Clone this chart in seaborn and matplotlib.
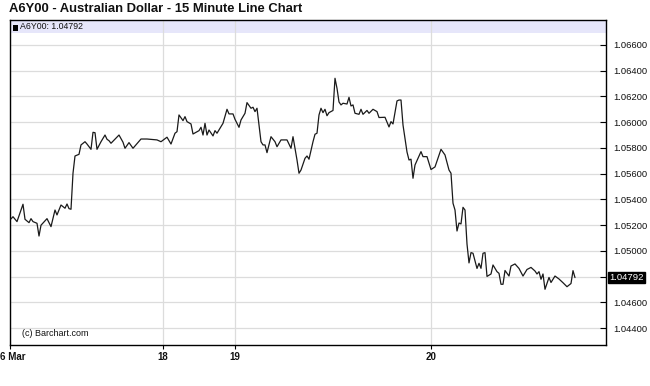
import matplotlib
matplotlib.use("Agg")
import matplotlib.pyplot as plt
import seaborn as sns
import pandas as pd
from matplotlib.patches import Rectangle
import matplotlib.transforms as mtransforms

# ---- data (15-minute bars, bar index -> price) ----
bars = [0, 1, 3, 6, 7, 9, 10, 11, 13, 14, 15, 18, 20, 22, 23, 25, 27, 28, 29, 30,
        31, 32, 34, 35, 37, 38, 40, 41, 42, 43, 45, 47, 48, 49, 50, 54, 56, 57, 59, 61,
        65, 68, 71, 73, 75, 78, 80, 82, 83, 84, 86, 87, 88, 90, 91, 94, 95, 96, 97, 98,
        99, 101, 102, 103, 106, 108, 109, 111, 112, 114, 115, 117, 118, 120, 121, 122, 123, 125, 126, 127,
        128, 130, 132, 133, 135, 138, 140, 141, 143, 144, 145, 147, 148, 149, 151, 152, 153, 154, 155, 156,
        157, 158, 159, 161, 162, 163, 164, 165, 166, 168, 169, 170, 171, 172, 174, 175, 176, 178, 179, 181,
        183, 184, 187, 189, 190, 191, 193, 194, 195, 196, 198, 199, 200, 201, 202, 205, 206, 208, 210, 212,
        215, 217, 219, 220, 221, 222, 223, 224, 225, 226, 227, 228, 229, 230, 231, 233, 234, 235, 236, 237,
        238, 240, 241, 243, 244, 245, 246, 247, 249, 250, 252, 254, 256, 258, 260, 262, 263, 264, 265, 266,
        267, 269, 270, 272, 274, 276, 278, 280, 281, 282]
prices = [1.05248, 1.05265, 1.05227, 1.05362, 1.05245, 1.05219, 1.05250, 1.05227, 1.05214, 1.05115,
          1.05199, 1.05250, 1.05188, 1.05317, 1.05279, 1.05356, 1.05331, 1.05364, 1.05328, 1.05323,
          1.05603, 1.05737, 1.05750, 1.05823, 1.05848, 1.05830, 1.05789, 1.05921, 1.05918, 1.05789,
          1.05848, 1.05900, 1.05867, 1.05856, 1.05836, 1.05900, 1.05844, 1.05797, 1.05841, 1.05797,
          1.05869, 1.05869, 1.05865, 1.05862, 1.05848, 1.05883, 1.05830, 1.05914, 1.05926, 1.06056,
          1.06012, 1.06043, 1.06004, 1.05986, 1.05908, 1.05934, 1.05960, 1.05900, 1.05991, 1.05900,
          1.05939, 1.05893, 1.05934, 1.05914, 1.05991, 1.06100, 1.06064, 1.06064, 1.06022, 1.05960,
          1.06017, 1.06069, 1.06152, 1.06108, 1.06116, 1.06082, 1.06108, 1.05848, 1.05823, 1.05823,
          1.05763, 1.05887, 1.05848, 1.05809, 1.05862, 1.05862, 1.05797, 1.05887, 1.05706, 1.05603,
          1.05628, 1.05719, 1.05737, 1.05712, 1.05848, 1.05906, 1.05914, 1.06056, 1.06108, 1.06074,
          1.06100, 1.06050, 1.06074, 1.06091, 1.06341, 1.06263, 1.06157, 1.06134, 1.06147, 1.06141,
          1.06193, 1.06126, 1.06134, 1.06069, 1.06061, 1.06100, 1.06061, 1.06091, 1.06069, 1.06100,
          1.06082, 1.06036, 1.06038, 1.05963, 1.06004, 1.05986, 1.06165, 1.06172, 1.06172, 1.05978,
          1.05768, 1.05706, 1.05712, 1.05564, 1.05667, 1.05771, 1.05732, 1.05732, 1.05632, 1.05652,
          1.05789, 1.05745, 1.05628, 1.05603, 1.05370, 1.05317, 1.05154, 1.05216, 1.05209, 1.05338,
          1.05317, 1.05053, 1.04906, 1.04986, 1.04981, 1.04863, 1.04903, 1.04864, 1.04981, 1.04986,
          1.04801, 1.04820, 1.04890, 1.04838, 1.04825, 1.04740, 1.04740, 1.04847, 1.04804, 1.04882,
          1.04898, 1.04863, 1.04804, 1.04855, 1.04871, 1.04843, 1.04820, 1.04838, 1.04779, 1.04820,
          1.04701, 1.04793, 1.04754, 1.04804, 1.04781, 1.04752, 1.04721, 1.04746, 1.04846, 1.04792]

date_tick_bars = [-0.5, 76, 112, 210]
date_tick_labels = ["6 Mar", "18", "19", "20"]
y_ticks = [1.044, 1.046, 1.048, 1.050, 1.052, 1.054, 1.056, 1.058, 1.060, 1.062, 1.064, 1.066]
hidden_y_labels = [1.048]  # covered by the last-price box
last_price = 1.04792
symbol = "A6Y00"
title = "A6Y00 - Australian Dollar - 15 Minute Line Chart"
credit = "(c) Barchart.com"

df = pd.DataFrame({"bar": bars, "price": prices})

sns.set_theme(style="white")
plt.rcParams["font.family"] = ["Liberation Sans", "DejaVu Sans"]

W, H = 650, 386
fig = plt.figure(figsize=(W / 100, H / 100), dpi=100)
ax = fig.add_axes([10 / W, 41 / H, 596 / W, 325 / H])

sns.lineplot(data=df, x="bar", y="price", ax=ax, color="#1a1a1a", linewidth=0.9,
             zorder=3, estimator=None, sort=False)

ax.set_xlim(-0.5, 297.5)
ax.set_ylim(1.04268, 1.06794)

# grid
ax.set_axisbelow(True)
ax.set_yticks(y_ticks)
ax.set_xticks(date_tick_bars)
ax.grid(True, color="#dcdcdc", linewidth=0.9)

# legend band
band_h = 13 / 325
ax.add_patch(Rectangle((0, 1 - band_h), 1, band_h, transform=ax.transAxes,
                       facecolor="#e6e6fa", edgecolor="none", zorder=0.2))
ax.add_patch(Rectangle((3 / 596, 1 - 10.5 / 325), 5 / 596, 6 / 325, transform=ax.transAxes,
                       facecolor="black", edgecolor="none", zorder=4))
ax.text(10 / 596, 1 - 6.8 / 325, f"{symbol}: {last_price:.5f}", transform=ax.transAxes,
        fontsize=6.3, va="center", ha="left", color="#111111", zorder=4)

# spines
for s in ax.spines.values():
    s.set_visible(True)
    s.set_color("black")
    s.set_linewidth(1.0)

# y ticks on right
ax.yaxis.tick_right()
ax.yaxis.set_label_position("right")
ax.set_yticklabels(["" if v in hidden_y_labels else f"{v:.5f}" for v in y_ticks])
ax.tick_params(axis="y", which="both", direction="in", length=4, width=0.8, color="black",
               labelsize=6.8, pad=5, labelcolor="#111111", left=False, right=True)

# x ticks
ax.set_xticklabels(date_tick_labels, fontweight="bold")
ax.tick_params(axis="x", which="both", direction="out", length=3, width=0.8, color="black",
               labelsize=7, pad=2, labelcolor="#111111", bottom=True)
lbl0 = ax.get_xticklabels()[0]
lbl0.set_horizontalalignment("left")
lbl0.set_transform(lbl0.get_transform() + mtransforms.ScaledTranslation(-10 / 100, 0, fig.dpi_scale_trans))

ax.set_xlabel("")
ax.set_ylabel("")

# last price box
trans = mtransforms.blended_transform_factory(ax.transAxes, ax.transData)
ax.text(1 + 3 / 596, last_price, f"{last_price:.5f}", transform=trans, fontsize=6.8,
        color="white", va="center", ha="left", zorder=5, clip_on=False,
        bbox=dict(boxstyle="square,pad=0.12", facecolor="black", edgecolor="black"))

# credit
ax.text(12 / 596, 12 / 325, credit, transform=ax.transAxes, fontsize=6.5,
        va="center", ha="left", color="#111111")

# title
fig.text(9 / W, 1 - 8.5 / H, title, fontsize=9.4, fontweight="bold", va="center", ha="left",
         color="#111111")

fig.savefig("out.png", dpi=100, facecolor="white")
